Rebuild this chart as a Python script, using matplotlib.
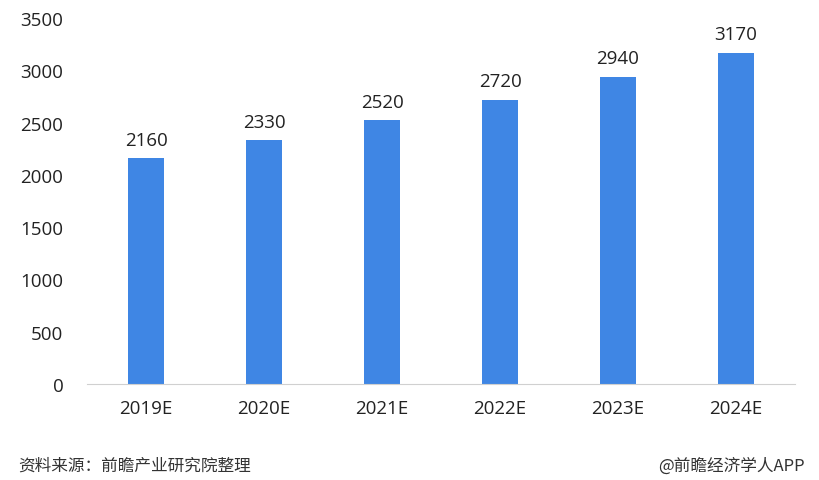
import matplotlib
matplotlib.use("Agg")
import matplotlib.pyplot as plt

categories = ["2019E", "2020E", "2021E", "2022E", "2023E", "2024E"]
values = [2160, 2330, 2520, 2720, 2940, 3170]
yticks = [0, 500, 1000, 1500, 2000, 2500, 3000, 3500]

plt.rcParams['font.family'] = ['Open Sans', 'Noto Sans CJK SC', 'DejaVu Sans']

fig = plt.figure(figsize=(8.19, 4.81), dpi=100)
ax = fig.add_axes([87/819, 1-385/481, (795-87)/819, (385-19)/481])

x = range(len(categories))
bars = ax.bar(x, values, width=0.31, color="#3f86e4")
for xi, v in zip(x, values):
    ax.text(xi, v + 90, str(v), ha="center", va="bottom", fontsize=13.5, color="#222222")

ax.set_xlim(-0.5, len(categories) - 0.5)
ax.set_ylim(0, 3500)
ax.set_yticks(yticks)
ax.set_xticks(list(x))
ax.set_xticklabels(categories)
ax.tick_params(axis="both", length=0, labelsize=13.5, colors="#222222")
ax.tick_params(axis="y", pad=17)
ax.tick_params(axis="x", pad=11)
for s in ["top", "right", "left"]:
    ax.spines[s].set_visible(False)
ax.spines["bottom"].set_color("#d0d0d0")

fig.text(18/819, 1-466/481, "资料来源：前瞻产业研究院整理", fontsize=12, style="italic",
         color="#333333", va="center", ha="left",
         family=['Noto Sans CJK SC', 'DejaVu Sans'])
fig.text(805/819, 1-466/481, "@前瞻经济学人APP", fontsize=12,
         color="#333333", va="center", ha="right",
         family=['Noto Sans CJK SC', 'DejaVu Sans'])

fig.savefig("out.png", dpi=100)
